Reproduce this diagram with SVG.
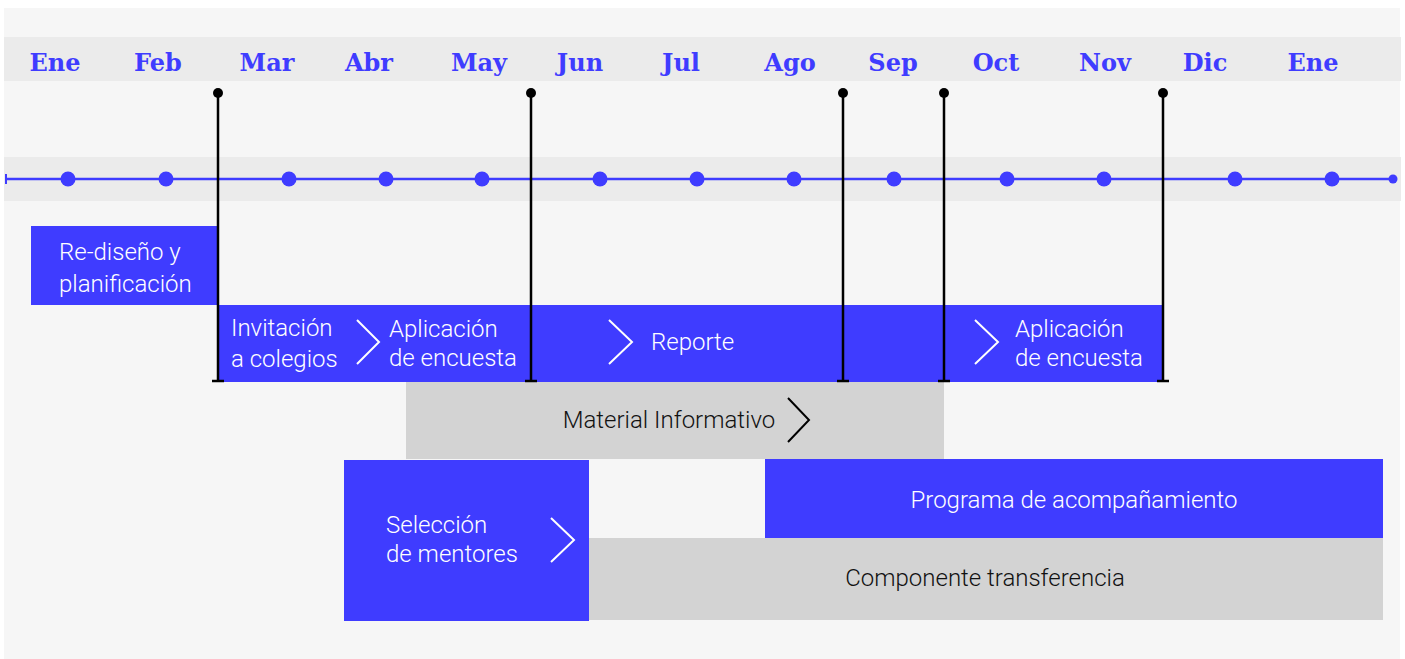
<svg xmlns="http://www.w3.org/2000/svg" width="1405" height="659" viewBox="0 0 1405 659">
<defs>
<style>
.month{font-family:"DejaVu Serif","Liberation Serif",serif;font-weight:bold;font-size:24px;fill:#3f3cff;text-anchor:middle}
.wt{font-family:Roboto,"Liberation Sans",sans-serif;font-weight:300;font-size:24px;fill:#ffffff}
.bt{font-family:Roboto,"Liberation Sans",sans-serif;font-weight:300;font-size:24px;fill:#111111}
.blue{fill:#3f3cff}
.grey{fill:#d3d3d3}
.dot{fill:#3f3cff}
.ms{stroke:#000;stroke-width:2.5;fill:none}
.chw{stroke:#fff;stroke-width:2;fill:none}
.chb{stroke:#000;stroke-width:2;fill:none}
</style>
</defs>
<rect x="0" y="0" width="1405" height="659" fill="#ffffff"/>
<rect x="4" y="8" width="1396" height="651" fill="#f6f6f6"/>
<rect x="4" y="37" width="1397" height="44" fill="#ebebeb"/>
<rect x="4" y="157" width="1397" height="44" fill="#ebebeb"/>
<g id="months">
<text class="month" x="55" y="71">Ene</text>
<text class="month" x="158" y="71">Feb</text>
<text class="month" x="267" y="71">Mar</text>
<text class="month" x="369" y="71">Abr</text>
<text class="month" x="479" y="71">May</text>
<text class="month" x="580" y="71">Jun</text>
<text class="month" x="681" y="71">Jul</text>
<text class="month" x="790" y="71">Ago</text>
<text class="month" x="893" y="71">Sep</text>
<text class="month" x="996" y="71">Oct</text>
<text class="month" x="1105" y="71">Nov</text>
<text class="month" x="1205" y="71">Dic</text>
<text class="month" x="1313" y="71">Ene</text>
</g>
<g id="timeline">
<line x1="6" y1="179" x2="1393" y2="179" stroke="#3f3cff" stroke-width="2.5"/>
<line x1="6" y1="174" x2="6" y2="184" stroke="#3f3cff" stroke-width="2"/>
<circle cx="1393" cy="179" r="4.5" class="dot"/>
<circle cx="68" cy="179" r="7.5" class="dot"/>
<circle cx="166" cy="179" r="7.5" class="dot"/>
<circle cx="289" cy="179" r="7.5" class="dot"/>
<circle cx="386" cy="179" r="7.5" class="dot"/>
<circle cx="482" cy="179" r="7.5" class="dot"/>
<circle cx="600" cy="179" r="7.5" class="dot"/>
<circle cx="697" cy="179" r="7.5" class="dot"/>
<circle cx="794" cy="179" r="7.5" class="dot"/>
<circle cx="894" cy="179" r="7.5" class="dot"/>
<circle cx="1007" cy="179" r="7.5" class="dot"/>
<circle cx="1104" cy="179" r="7.5" class="dot"/>
<circle cx="1235" cy="179" r="7.5" class="dot"/>
<circle cx="1332" cy="179" r="7.5" class="dot"/>
</g>
<g id="node-rediseno">
<rect class="blue" x="31" y="226" width="187" height="79"/>
<text class="wt" x="59" y="260">Re-diseño y</text>
<text class="wt" x="59" y="292">planificación</text>
</g>
<g id="node-fila2">
<rect class="blue" x="218" y="305" width="945" height="77"/>
<text class="wt" x="231" y="336">Invitación</text>
<text class="wt" x="231" y="367">a colegios</text>
<polyline class="chw" points="357,320 379,342 357,364"/>
<text class="wt" x="389" y="337">Aplicación</text>
<text class="wt" x="389" y="366">de encuesta</text>
<polyline class="chw" points="609,320 632,342 609,364"/>
<text class="wt" x="651" y="350">Reporte</text>
<polyline class="chw" points="975,320 998,342 975,364"/>
<text class="wt" x="1015" y="337">Aplicación</text>
<text class="wt" x="1015" y="366">de encuesta</text>
</g>
<g id="node-material">
<rect class="grey" x="406" y="382" width="538" height="77"/>
<text class="bt" x="669" y="428" text-anchor="middle">Material Informativo</text>
<polyline class="chb" points="788,398 809,420 788,442"/>
</g>
<g id="node-componente">
<rect class="grey" x="589" y="538" width="794" height="82"/>
<text class="bt" x="985" y="586" text-anchor="middle">Componente transferencia</text>
</g>
<g id="node-programa">
<rect class="blue" x="765" y="459" width="618" height="79"/>
<text class="wt" x="1074" y="508" text-anchor="middle">Programa de acompañamiento</text>
</g>
<g id="node-seleccion">
<rect class="blue" x="344" y="460" width="245" height="161"/>
<text class="wt" x="386" y="533">Selección</text>
<text class="wt" x="386" y="562">de mentores</text>
<polyline class="chw" points="551,518 574,540 551,562"/>
</g>
<g id="connectors">
<g class="ms">
<line x1="218" y1="93" x2="218" y2="381"/>
<line x1="212" y1="381" x2="224" y2="381"/>
<line x1="531" y1="93" x2="531" y2="381"/>
<line x1="525" y1="381" x2="537" y2="381"/>
<line x1="843" y1="93" x2="843" y2="381"/>
<line x1="837" y1="381" x2="849" y2="381"/>
<line x1="944" y1="93" x2="944" y2="381"/>
<line x1="938" y1="381" x2="950" y2="381"/>
<line x1="1163" y1="93" x2="1163" y2="381"/>
<line x1="1157" y1="381" x2="1169" y2="381"/>
</g>
<circle cx="218" cy="93" r="5" fill="#000"/>
<circle cx="531" cy="93" r="5" fill="#000"/>
<circle cx="843" cy="93" r="5" fill="#000"/>
<circle cx="944" cy="93" r="5" fill="#000"/>
<circle cx="1163" cy="93" r="5" fill="#000"/>
</g>
</svg>
